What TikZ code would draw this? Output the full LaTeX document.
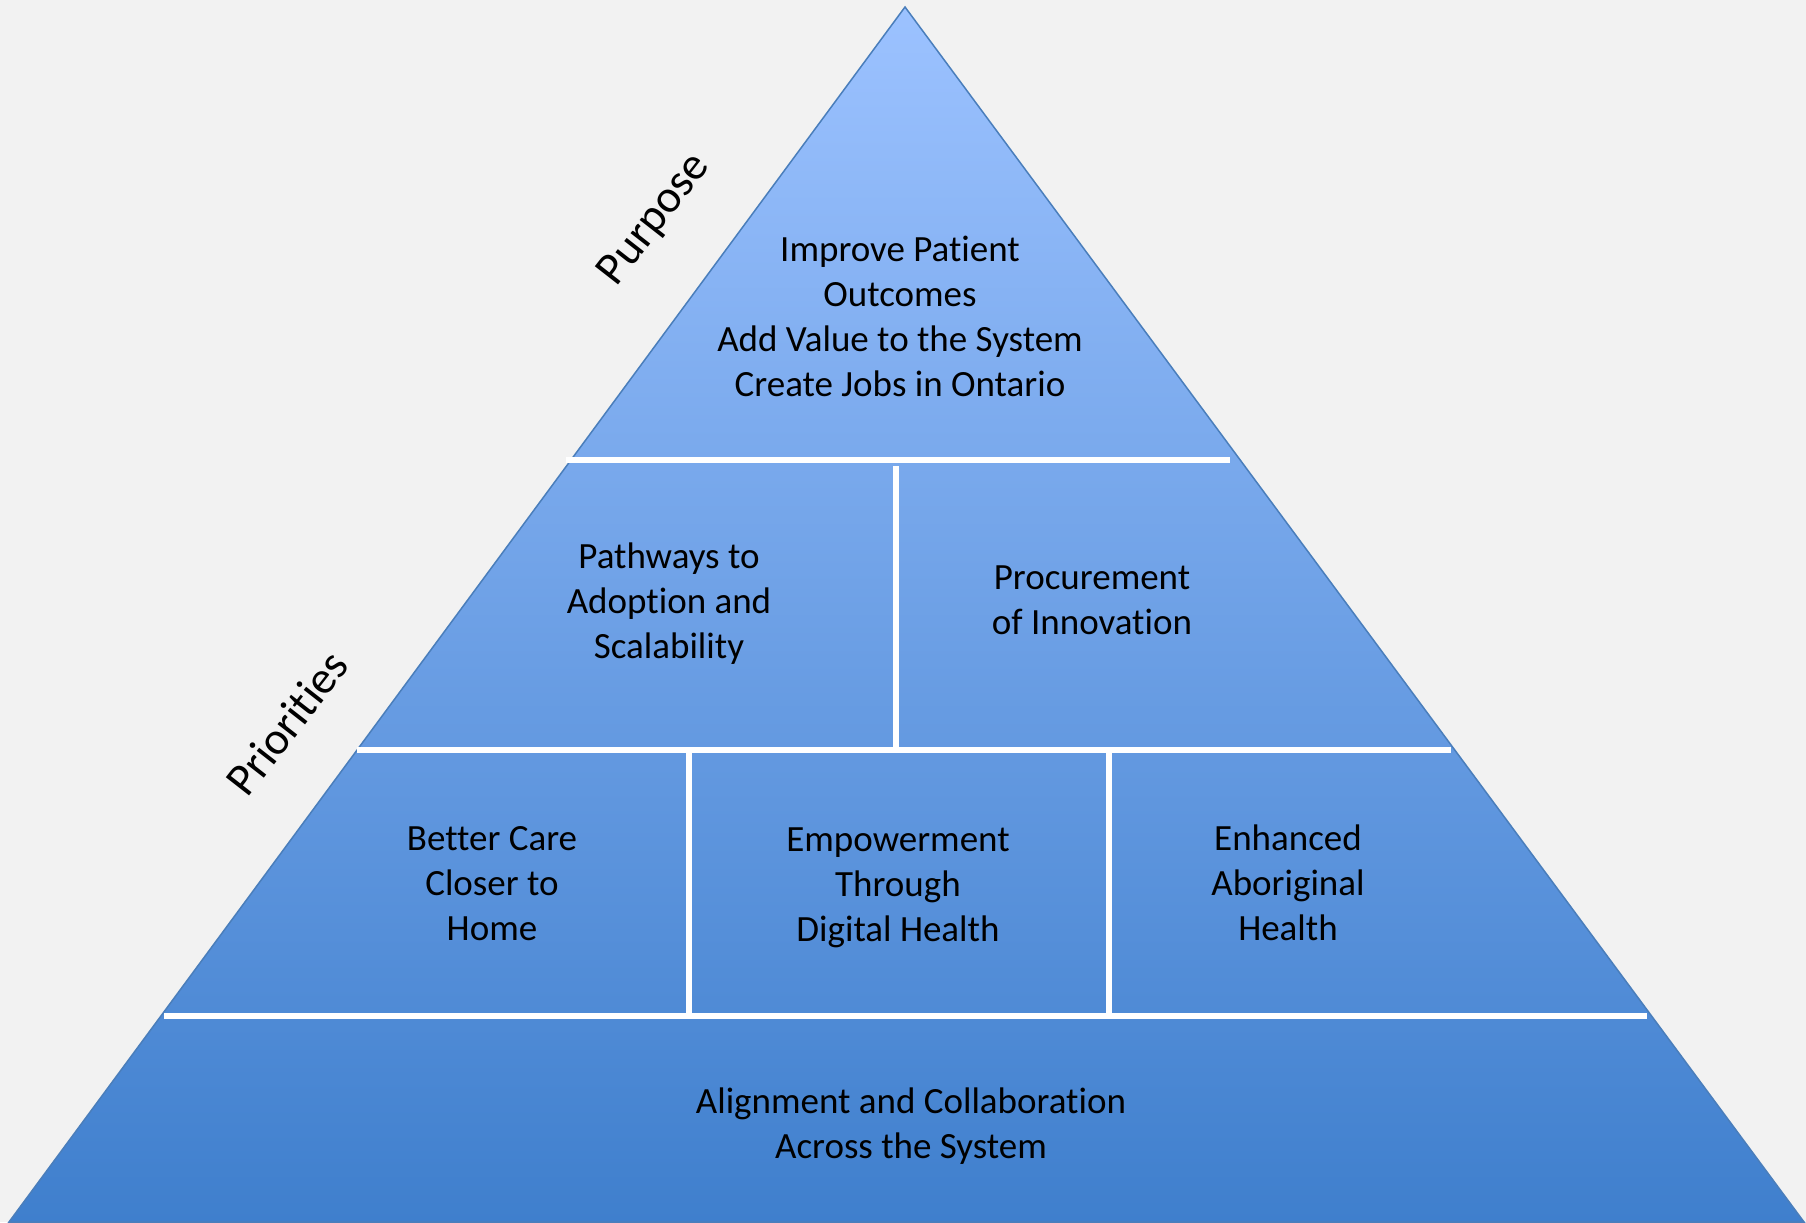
\documentclass[tikz,border=0pt]{standalone}
\usepackage{fontspec}
\setmainfont[Ligatures={NoCommon,NoContextual,NoRequired}]{Carlito}
\newcommand{\tibreak}{\kern0pt}
\definecolor{bgray}{HTML}{F2F2F2}
\definecolor{toptint}{HTML}{9CC2FF}
\definecolor{midtint}{HTML}{7BA7EA}
\definecolor{bottint}{HTML}{3F7FCD}
\definecolor{edgeblue}{HTML}{4A7EBB}
\begin{document}
\begin{tikzpicture}[x=1pt,y=-1pt,
  block/.style={align=center,inner sep=0pt,font=\fontsize{37}{45}\selectfont},
  side/.style={inner sep=0pt,rotate=52,font=\fontsize{46}{54}\selectfont},
  split/.style={white,line width=6pt}]
\fill [bgray] (0,0) rectangle (1806,1222);
\coordinate (apex) at (905,7);
\coordinate (bl) at (9,1222);
\coordinate (br) at (1804,1222);
\shade [top color=toptint,middle color=midtint,bottom color=bottint] (apex) -- (bl) -- (br) -- cycle;
\draw [edgeblue,line width=1.5pt,line join=miter] (apex) -- (bl) -- (br) -- cycle;
% tiers
\draw [split] (566,460) -- (1230,460);
\draw [split] (357,750) -- (1451,750);
\draw [split] (164,1016) -- (1647,1016);
\draw [split] (896,466) -- (896,750);
\draw [split] (689,753) -- (689,1016);
\draw [split] (1109,753) -- (1109,1016);
% labels
\node [block] (goals) at (900,316) {Improve Pat\tibreak ient\\Outcomes\\Add Value to the System\\Create Jobs in Ontario};
\node [block] (pathways) at (669,604) {Pathways to\\Adoption and\\Scalability};
\node [block] (procure) at (1092,600) {Procurement\\of Innovat\tibreak ion};
\node [block] (care) at (492,884) {Better Care\\Closer to\\Home};
\node [block] (digital) at (898,888) {Empowerment\\Through\\Digital Health};
\node [block] (aboriginal) at (1288,883) {Enhanced\\Aboriginal\\Health};
\node [block] (align) at (911,1126) {Alignment and Collaborat\tibreak ion\\Across the System};
\node [side] (purpose) at (655,220) {Purpose};
\node [side] (priorities) at (287,723) {Priorit\tibreak ies};
\end{tikzpicture}
\end{document}
